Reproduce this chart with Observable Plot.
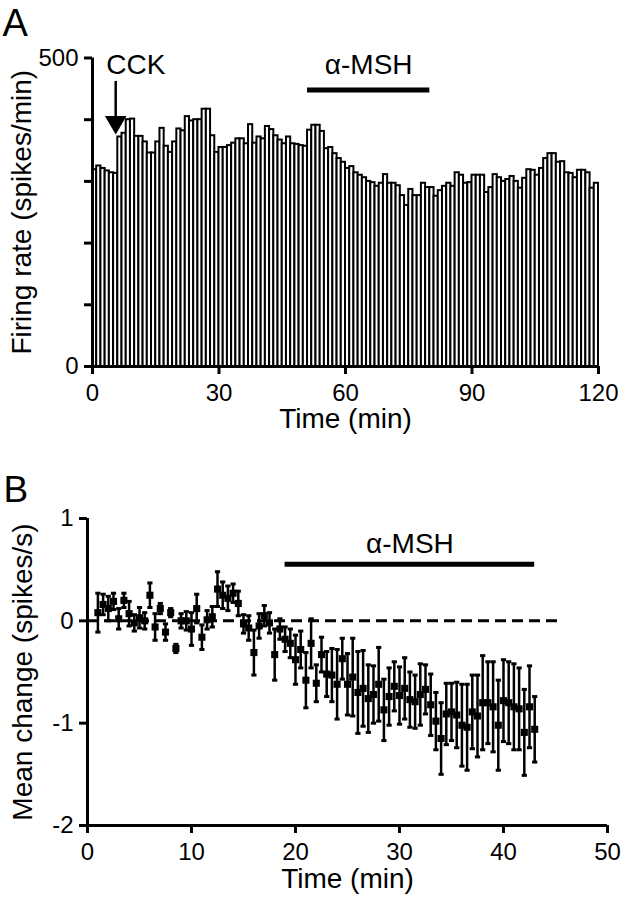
<!DOCTYPE html>
<html>
<head>
<meta charset="utf-8">
<script src="https://cdn.jsdelivr.net/npm/d3@7"></script>
<script src="https://cdn.jsdelivr.net/npm/@observablehq/plot@0.6"></script>
<style>
  html, body { margin: 0; padding: 0; background: #fff; }
  #chart { width: 623px; }
  #chart svg { display: block; }
</style>
</head>
<body>
<div id="chart"></div>
<script>
// ---------------- Panel A data ----------------
const binStartA = d3.range(0, 120);          // 1-min bins
const firingRate = [
  319,325,321,317,314,313,372,378,400,401,
  373,373,364,346,346,364,386,357,347,364,
  385,382,405,398,400,400,417,417,374,347,
  355,355,358,362,369,369,361,392,362,372,
  369,389,384,374,367,361,372,361,360,358,
  357,383,391,391,381,353,355,345,337,331,
  321,324,314,310,306,300,298,292,297,311,
  297,297,293,277,261,287,277,277,297,290,
  290,276,285,292,297,292,314,310,297,298,
  310,310,310,282,290,311,306,300,303,308,
  300,289,305,319,318,310,321,337,345,345,
  331,332,314,313,306,318,318,314,289,297
];
const xTicksA = [0, 30, 60, 90, 120];
const yTicksA = [0, 100, 200, 300, 400, 500];
const yTickLabelsA = ["0", "", "", "", "", "500"];
const cckTime = [5.5];
const msBarA = [{x1: 51, x2: 80}];

// ---------------- Panel B data ----------------
const timeB = d3.range(1, 43.25, 0.5);       // 30-s samples, 1 .. 43 min
const meanChange = [
  0.08,0.16,0.12,0.19,0.02,0.20,0.07,-0.02,0.03,0.00,
  0.25,-0.06,0.12,-0.11,0.08,-0.27,0.00,0.00,-0.08,0.12,
  -0.16,0.01,0.04,0.31,0.25,0.22,0.27,0.17,-0.03,-0.07,
  -0.31,-0.05,0.05,-0.02,-0.33,-0.08,-0.18,-0.22,-0.38,-0.28,
  -0.58,-0.22,-0.61,-0.33,-0.52,-0.53,-0.62,-0.37,-0.62,-0.55,
  -0.70,-0.66,-0.76,-0.72,-0.62,-0.87,-0.74,-0.64,-0.73,-0.66,
  -0.77,-0.79,-0.72,-0.67,-0.82,-0.98,-1.15,-0.91,-0.89,-0.92,
  -1.02,-1.04,-0.89,-0.93,-0.80,-0.80,-0.84,-1.02,-0.78,-0.80,
  -0.84,-0.86,-1.09,-0.84,-1.06
];
const semChange = [
  0.19,0.10,0.12,0.08,0.10,0.07,0.12,0.08,0.10,0.08,
  0.12,0.13,0.05,0.08,0.04,0.04,0.07,0.09,0.16,0.14,
  0.12,0.09,0.10,0.17,0.13,0.12,0.09,0.12,0.09,0.12,
  0.22,0.12,0.10,0.10,0.25,0.10,0.12,0.14,0.24,0.18,
  0.27,0.24,0.18,0.17,0.22,0.26,0.34,0.20,0.30,0.38,
  0.40,0.37,0.33,0.28,0.36,0.30,0.28,0.24,0.28,0.30,
  0.27,0.26,0.30,0.24,0.30,0.28,0.35,0.30,0.28,0.32,
  0.40,0.42,0.36,0.40,0.46,0.40,0.44,0.44,0.40,0.40,
  0.42,0.40,0.42,0.40,0.32
];
const xTicksB = [0, 10, 20, 30, 40, 50];
const yTicksB = [-2, -1, 0, 1];
const msBarB = [{x1: 19, x2: 43}];
const baselineB = [{x1: 0, x2: 45.5}];

// ---------------- helpers ----------------
const FONT = "'Liberation Sans', Arial, Helvetica, sans-serif";
const TICK_FS = 24, TITLE_FS = 28;
const baseStyle = {fontFamily: FONT, fontSize: TICK_FS + "px", color: "black", background: "white", overflow: "visible"};

// ---------------- Panel A ----------------
const dataA = firingRate.map((v, i) => ({t: binStartA[i], v}));
const plotA = Plot.plot({
  width: 623, height: 440,
  marginLeft: 92, marginRight: 25, marginTop: 57.5, marginBottom: 74,
  style: baseStyle,
  x: {domain: [0, 120]},
  y: {domain: [0, 500]},
  marks: [
    Plot.rectY(dataA, {x1: "t", x2: d => d.t + 1, y1: 0, y2: "v", fill: "white", stroke: "black", strokeWidth: 2}),
    Plot.ruleY([0], {stroke: "black", strokeWidth: 3}),
    Plot.ruleX([0], {stroke: "black", strokeWidth: 3}),
    Plot.axisX({ticks: xTicksA, tickSize: 8, tickPadding: 9, strokeWidth: 3, label: null, tickFormat: d => String(d)}),
    Plot.axisY({ticks: yTicksA, tickSize: 8, tickPadding: 6, strokeWidth: 3, label: null,
      tickFormat: d => yTickLabelsA[yTicksA.indexOf(d)]}),
    // CCK arrow
    Plot.ruleX(cckTime, {y1: 462, y2: 405, stroke: "black", strokeWidth: 2.5}),
    Plot.dot(cckTime, {x: d => d, y: 396, symbol: "triangle", rotate: 180, r: 8, fill: "black", stroke: "none"}),
    Plot.text(["CCK"], {x: 10.3, y: 488, fontSize: 28, textAnchor: "middle", lineAnchor: "middle"}),
    // alpha-MSH bar
    Plot.ruleY(msBarA, {y: 448, x1: "x1", x2: "x2", stroke: "black", strokeWidth: 5}),
    Plot.text(["α-MSH"], {x: d => (msBarA[0].x1 + msBarA[0].x2) / 2, y: 489, fontSize: 28, textAnchor: "middle", lineAnchor: "middle"}),
    // titles
    Plot.text(["Firing rate (spikes/min)"], {frameAnchor: "left", rotate: -90, dx: -70, fontSize: TITLE_FS, textAnchor: "middle", lineAnchor: "middle"}),
    Plot.text(["Time (min)"], {frameAnchor: "bottom", dy: 53, fontSize: TITLE_FS, textAnchor: "middle", lineAnchor: "middle"}),
    Plot.text(["A"], {frameAnchor: "top-left", dx: -90, dy: -34.5, fontSize: 38, textAnchor: "start", lineAnchor: "middle"})
  ]
});

// ---------------- Panel B ----------------
const dataB = timeB.map((t, i) => ({t, m: meanChange[i], s: semChange[i]}));
const capHalf = 0.25;
const plotB = Plot.plot({
  width: 623, height: 459,
  marginLeft: 87, marginRight: 16, marginTop: 78, marginBottom: 74,
  style: baseStyle,
  x: {domain: [0, 50]},
  y: {domain: [-2, 1]},
  marks: [
    Plot.ruleY(baselineB, {y: 0, x1: "x1", x2: "x2", stroke: "black", strokeWidth: 3, strokeDasharray: "11,6"}),
    Plot.ruleX(dataB, {x: "t", y1: d => d.m - d.s, y2: d => d.m + d.s, stroke: "black", strokeWidth: 2.5}),
    Plot.link(dataB, {x1: d => d.t - capHalf, x2: d => d.t + capHalf, y1: d => d.m + d.s, y2: d => d.m + d.s, stroke: "black", strokeWidth: 3}),
    Plot.link(dataB, {x1: d => d.t - capHalf, x2: d => d.t + capHalf, y1: d => d.m - d.s, y2: d => d.m - d.s, stroke: "black", strokeWidth: 3}),
    Plot.dot(dataB, {x: "t", y: "m", symbol: "square", r: 4, fill: "black", stroke: "none"}),
    Plot.ruleY([-2], {stroke: "black", strokeWidth: 3}),
    Plot.ruleX([0], {stroke: "black", strokeWidth: 3}),
    Plot.axisX({ticks: xTicksB, tickSize: 8, tickPadding: 9, strokeWidth: 3, label: null, tickFormat: d => String(d)}),
    Plot.axisY({ticks: yTicksB, tickSize: 8, tickPadding: 6, strokeWidth: 3, label: null, tickFormat: d => String(d)}),
    // alpha-MSH bar
    Plot.ruleY(msBarB, {y: 0.553, x1: "x1", x2: "x2", stroke: "black", strokeWidth: 5}),
    Plot.text(["α-MSH"], {x: d => (msBarB[0].x1 + msBarB[0].x2) / 2, y: 0.75, fontSize: 28, textAnchor: "middle", lineAnchor: "middle"}),
    // titles
    Plot.text(["Mean change (spikes/s)"], {frameAnchor: "left", rotate: -90, dx: -64, fontSize: TITLE_FS, textAnchor: "middle", lineAnchor: "middle"}),
    Plot.text(["Time (min)"], {frameAnchor: "bottom", dy: 54, fontSize: TITLE_FS, textAnchor: "middle", lineAnchor: "middle"}),
    Plot.text(["B"], {frameAnchor: "top-left", dx: -84, dy: -28, fontSize: 37, textAnchor: "start", lineAnchor: "middle"})
  ]
});

const root = document.getElementById("chart");
root.appendChild(plotA);
root.appendChild(plotB);
</script>
</body>
</html>
